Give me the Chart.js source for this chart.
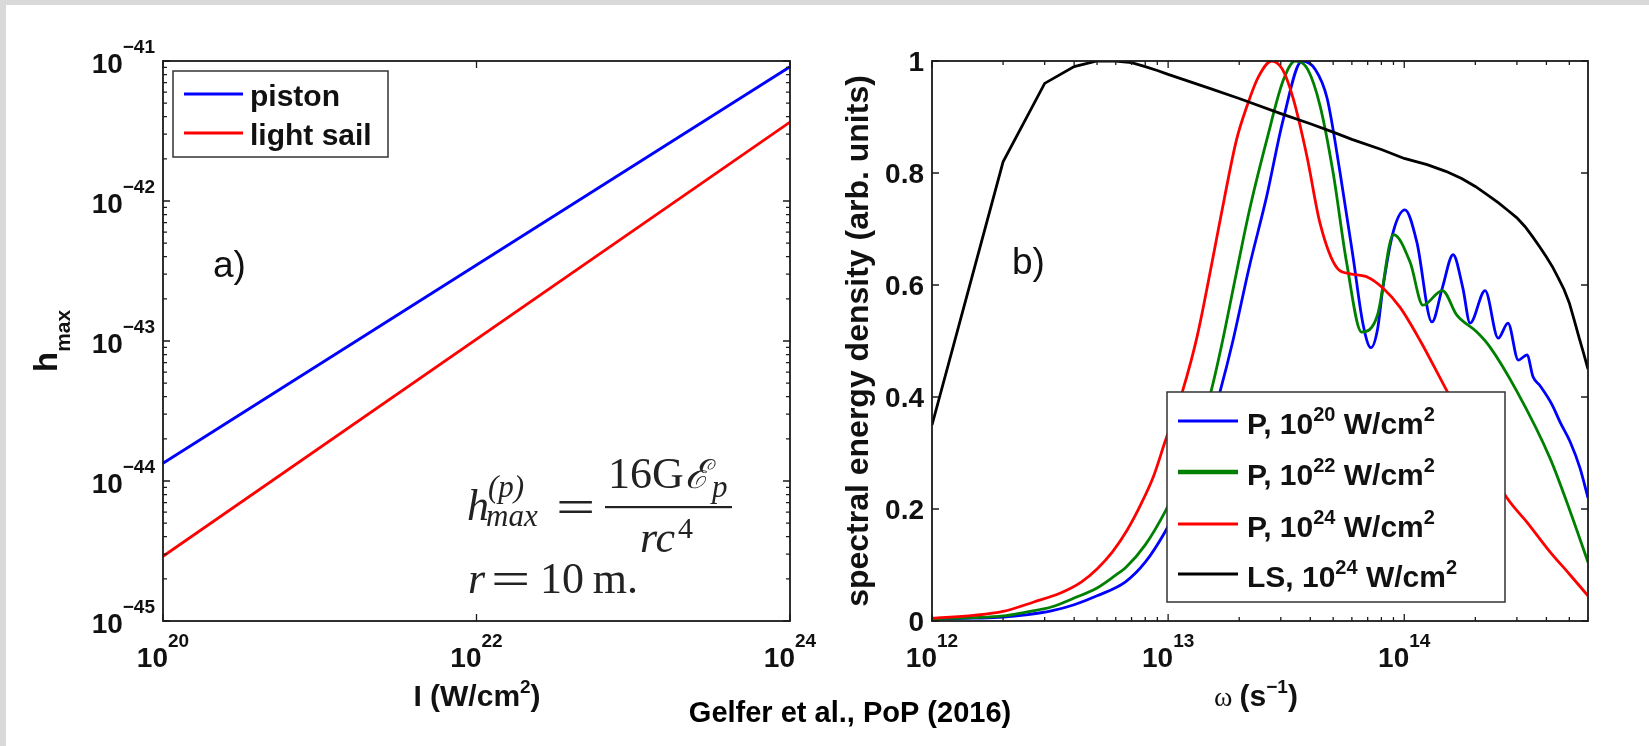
<!DOCTYPE html>
<html>
<head>
<meta charset="utf-8">
<script src="https://cdn.jsdelivr.net/npm/chart.js@4/dist/chart.umd.min.js"></script>
<style>
  html, body { margin: 0; padding: 0; background: #fff; }
  #page { position: relative; width: 1649px; height: 746px; overflow: hidden; background: #fff; }
  .band-top { position: absolute; left: 0; top: 0; width: 1649px; height: 5px; background: #d9d9d9; }
  .band-left { position: absolute; left: 0; top: 0; width: 6px; height: 746px; background: #d9d9d9; }
  canvas { position: absolute; left: 0; top: 0; }
</style>
</head>
<body>
<div id="page">
  <div class="band-top"></div>
  <div class="band-left"></div>
  <canvas id="chartA" width="1649" height="746"></canvas>
  <canvas id="chartB" width="1649" height="746"></canvas>
</div>
<script>
// panel a) : h_max versus laser intensity
var intensity = [1e20, 1e24];
var hPiston = [1.34e-44, 9.1e-42];
var hSail = [2.9e-45, 3.66e-42];
var iTicks = [1e20, 1e22, 1e24];
var hTicks = [1e-45, 1e-44, 1e-43, 1e-42, 1e-41];
var namesA = ['piston', 'light sail'];

// panel b) : spectra
var wLS = [1e12, 2e12, 3e12, 4e12, 5e12, 6e12, 7e12, 8e12, 9e12, 1e13, 1.5e13, 2e13, 3e13, 4e13, 5e13, 6e13, 8e13,
           1e14, 1.25e14, 1.5e14, 1.75e14, 2e14, 2.25e14, 2.5e14, 2.75e14, 3e14, 3.25e14, 3.5e14, 3.75e14, 4e14,
           4.25e14, 4.5e14, 4.75e14, 5e14, 5.25e14, 5.5e14, 5.75e14, 6e14];
var sLS = [0.35, 0.82, 0.96, 0.99, 1.0, 1.0, 0.997, 0.99, 0.983, 0.976, 0.951, 0.933, 0.906, 0.888, 0.873, 0.86, 0.842,
           0.826, 0.815, 0.803, 0.79, 0.776, 0.761, 0.747, 0.733, 0.72, 0.704, 0.686, 0.668, 0.65,
           0.632, 0.612, 0.592, 0.568, 0.537, 0.506, 0.478, 0.45];

var wP24 = [1e12, 1.5e12, 2e12, 2.7e12, 3.5e12, 4.3e12, 5e12, 5.8e12, 6.7e12, 7.7e12, 8.7e12, 9.7e12, 1.15e13, 1.33e13,
            1.55e13, 1.74e13, 1.95e13, 2.16e13, 2.4e13, 2.75e13, 3.05e13, 3.38e13, 3.87e13, 4.4e13, 5.2e13, 5.9e13,
            7e13, 8.1e13, 9.6e13, 1.17e14, 1.52e14, 2e14, 2.72e14, 3.3e14, 4.15e14, 5e14, 6e14];
var sP24 = [0.005, 0.01, 0.017, 0.034, 0.05, 0.07, 0.093, 0.123, 0.162, 0.21, 0.26, 0.32, 0.41, 0.51,
            0.65, 0.76, 0.86, 0.92, 0.97, 1.0, 0.985, 0.934, 0.83, 0.71, 0.63, 0.62,
            0.614, 0.595, 0.56, 0.50, 0.41, 0.32, 0.22, 0.177, 0.123, 0.084, 0.045];

var wP22 = [1e12, 1.5e12, 2e12, 2.5e12, 3.2e12, 4e12, 5e12, 6e12, 6.6e12, 8e12, 9.7e12, 1.15e13, 1.35e13, 1.53e13,
            1.7e13, 1.9e13, 2.2e13, 2.62e13, 3.07e13, 3.45e13, 3.9e13, 4.4e13, 5e13, 5.7e13, 6.6e13, 7.7e13, 9e13,
            1.06e14, 1.2e14, 1.45e14, 1.67e14, 2.03e14, 2.3e14, 3e14, 4.15e14, 5e14, 6e14];
var sP22 = [0.004, 0.006, 0.009, 0.016, 0.025, 0.041, 0.059, 0.082, 0.095, 0.136, 0.195, 0.26, 0.335, 0.415,
            0.5, 0.6, 0.73, 0.86, 0.965, 1.0, 0.985, 0.92, 0.80, 0.64, 0.516, 0.546, 0.69,
            0.64, 0.564, 0.59, 0.546, 0.516, 0.49, 0.41, 0.29, 0.2, 0.105];

var wP20 = [1e12, 1.5e12, 2e12, 2.5e12, 3.2e12, 4e12, 5e12, 6.6e12, 8e12, 9.7e12, 1.15e13, 1.35e13, 1.5e13, 1.66e13,
            1.88e13, 2.2e13, 2.62e13, 3.07e13, 3.69e13, 4.2e13, 4.71e13, 5.35e13, 6.07e13, 6.69e13, 7.23e13, 7.7e13,
            8.12e13, 8.98e13, 1.007e14, 1.13e14, 1.31e14, 1.45e14, 1.61e14, 1.77e14, 1.9e14, 2.2e14, 2.5e14, 2.75e14,
            3.04e14, 3.31e14, 3.51e14, 3.76e14, 4.23e14, 4.57e14, 5.04e14, 5.55e14, 6e14];
var sP20 = [0.003, 0.005, 0.007, 0.011, 0.018, 0.029, 0.045, 0.07, 0.105, 0.159, 0.22, 0.29, 0.345, 0.41,
            0.5, 0.63, 0.76, 0.895, 1.0, 0.985, 0.934, 0.80, 0.65, 0.53, 0.488, 0.52,
            0.595, 0.695, 0.734, 0.677, 0.534, 0.595, 0.654, 0.595, 0.532, 0.59, 0.505, 0.532,
            0.466, 0.475, 0.436, 0.42, 0.386, 0.355, 0.32, 0.273, 0.22];

var wTicks = [1e12, 1e13, 1e14];
var sTicks = [0, 0.2, 0.4, 0.6, 0.8, 1];
var sTickLabels = ['0', '0.2', '0.4', '0.6', '0.8', '1'];
var namesB = ['P', 'P', 'P', 'LS'];
var expB = ['20', '22', '24', '24'];
var colorsB = ['#0000ff', '#008000', '#ff0000', '#000000'];

var SANS = '"Liberation Sans", Arial, Helvetica, sans-serif';
var SERIF = '"Liberation Serif", "DejaVu Serif", "Times New Roman", serif';
var INK = '#111';

function pts(xs, ys) {
  return xs.map(function (x, i) { return { x: x, y: ys[i] }; });
}

// draws a run of text pieces (font, vertical shift) starting at x
function rich(ctx, parts, x, y, align) {
  var w = 0;
  parts.forEach(function (p) { ctx.font = p.f; p.w = ctx.measureText(p.t).width; w += p.w; });
  var cx = align === 'center' ? x - w / 2 : align === 'right' ? x - w : x;
  ctx.textAlign = 'left';
  ctx.textBaseline = 'alphabetic';
  parts.forEach(function (p) { ctx.font = p.f; ctx.fillText(p.t, cx, y + (p.dy || 0)); cx += p.w; });
  return w;
}

function pow10(ctx, v, x, y, align) {
  var e = Math.round(Math.log10(v));
  var es = e < 0 ? '\u2212' + (-e) : String(e);
  rich(ctx, [{ t: '10', f: 'bold 28px ' + SANS }, { t: es, f: 'bold 19px ' + SANS, dy: -20 }], x, y, align);
}

// wide equals sign, as in the typeset formula
function wideEq(ctx, x, y) {
  ctx.save();
  ctx.translate(x, y);
  ctx.scale(1.45, 1);
  ctx.font = '48px ' + SERIF;
  ctx.fillText('=', 0, 0);
  ctx.restore();
}

function logMinor(min, max) {
  var out = [];
  for (var n = Math.floor(Math.log10(min)); n <= Math.ceil(Math.log10(max)); n++) {
    for (var k = 2; k <= 9; k++) {
      var v = k * Math.pow(10, n);
      if (v > min && v < max) out.push(v);
    }
  }
  return out;
}

function frame(chart, xMajor, xMinor, yMajor, yMinor) {
  var ctx = chart.ctx, a = chart.chartArea, sx = chart.scales.x, sy = chart.scales.y;
  ctx.save();
  ctx.strokeStyle = '#1a1a1a';
  ctx.lineWidth = 1.3;
  ctx.beginPath();
  function tx(v, len) {
    var p = sx.getPixelForValue(v);
    ctx.moveTo(p, a.bottom); ctx.lineTo(p, a.bottom - len);
    ctx.moveTo(p, a.top); ctx.lineTo(p, a.top + len);
  }
  function ty(v, len) {
    var p = sy.getPixelForValue(v);
    ctx.moveTo(a.left, p); ctx.lineTo(a.left + len, p);
    ctx.moveTo(a.right, p); ctx.lineTo(a.right - len, p);
  }
  xMajor.forEach(function (v) { tx(v, 7); });
  xMinor.forEach(function (v) { tx(v, 4); });
  yMajor.forEach(function (v) { ty(v, 7); });
  yMinor.forEach(function (v) { ty(v, 4); });
  ctx.stroke();
  ctx.lineWidth = 1.8;
  ctx.strokeRect(a.left, a.top, a.right - a.left, a.bottom - a.top);
  ctx.restore();
}

function legendBox(ctx, x0, y0, x1, y1) {
  ctx.fillStyle = '#fff';
  ctx.fillRect(x0, y0, x1 - x0, y1 - y0);
  ctx.strokeStyle = '#333';
  ctx.lineWidth = 1.5;
  ctx.strokeRect(x0, y0, x1 - x0, y1 - y0);
}

var panelA = {
  id: 'panelA',
  afterDraw: function (chart) {
    var ctx = chart.ctx, a = chart.chartArea, sx = chart.scales.x, sy = chart.scales.y;
    frame(chart, iTicks, [], hTicks, logMinor(1e-45, 1e-41));
    ctx.save();
    ctx.fillStyle = INK;
    hTicks.forEach(function (v) { pow10(ctx, v, a.left - 8, sy.getPixelForValue(v) + 12, 'right'); });
    iTicks.forEach(function (v) { pow10(ctx, v, sx.getPixelForValue(v), a.bottom + 46, 'center'); });

    // x title
    rich(ctx, [{ t: 'I (W/cm', f: 'bold 30px ' + SANS }, { t: '2', f: 'bold 19px ' + SANS, dy: -13 },
               { t: ')', f: 'bold 30px ' + SANS }], 477, 706, 'center');
    // y title h_max, rotated
    ctx.save();
    ctx.translate(57, 372);
    ctx.rotate(-Math.PI / 2);
    rich(ctx, [{ t: 'h', f: 'bold 33px ' + SANS }, { t: 'max', f: 'bold 21px ' + SANS, dy: 13 }], 0, 0, 'left');
    ctx.restore();

    // panel tag
    ctx.font = '37px ' + SANS;
    ctx.fillText('a)', 213, 277);

    // formula
    ctx.fillStyle = '#222';
    ctx.font = 'italic 44px ' + SERIF; ctx.fillText('h', 467, 520);
    ctx.font = 'italic 31px ' + SERIF; ctx.fillText('(p)', 488, 497);
    ctx.font = 'italic 31px ' + SERIF; ctx.fillText('max', 486, 526);
    wideEq(ctx, 556, 523);
    ctx.fillRect(605, 506, 127, 2.2);
    ctx.font = '44px ' + SERIF; ctx.fillText('16G', 608, 488);
    var w16 = ctx.measureText('16G').width;
    ctx.font = 'italic 40px ' + SERIF; ctx.fillText('\u2130', 608 + w16 + 1, 488);
    ctx.font = 'italic 31px ' + SERIF; ctx.fillText('p', 712, 497);
    ctx.font = 'italic 44px ' + SERIF; ctx.fillText('rc', 640, 552);
    ctx.font = '30px ' + SERIF; ctx.fillText('4', 678, 538);
    ctx.font = 'italic 44px ' + SERIF; ctx.fillText('r', 468, 593);
    wideEq(ctx, 491, 595);
    ctx.font = '44px ' + SERIF; ctx.fillText('10\u2009m.', 540, 593);

    // legend
    legendBox(ctx, 173, 71, 388, 157);
    [['#0000ff', 94], ['#ff0000', 133]].forEach(function (r, i) {
      ctx.strokeStyle = r[0];
      ctx.lineWidth = 2.8;
      ctx.beginPath(); ctx.moveTo(184, r[1]); ctx.lineTo(243, r[1]); ctx.stroke();
      ctx.fillStyle = INK;
      ctx.font = 'bold 30px ' + SANS;
      ctx.textAlign = 'left';
      ctx.fillText(namesA[i], 250, r[1] + 12);
    });
    ctx.restore();
  }
};

var panelB = {
  id: 'panelB',
  afterDraw: function (chart) {
    var ctx = chart.ctx, a = chart.chartArea, sx = chart.scales.x, sy = chart.scales.y;
    frame(chart, wTicks, logMinor(1e12, 6e14), sTicks, []);
    ctx.save();
    ctx.fillStyle = INK;
    ctx.font = 'bold 28px ' + SANS;
    ctx.textAlign = 'right';
    ctx.textBaseline = 'middle';
    sTicks.forEach(function (v, i) { ctx.fillText(sTickLabels[i], a.left - 8, sy.getPixelForValue(v) + 2); });
    wTicks.forEach(function (v) { pow10(ctx, v, sx.getPixelForValue(v), a.bottom + 46, 'center'); });

    // x title
    rich(ctx, [{ t: '\u03c9 ', f: '28px ' + SERIF }, { t: '(s', f: 'bold 30px ' + SANS },
               { t: '\u22121', f: 'bold 19px ' + SANS, dy: -13 }, { t: ')', f: 'bold 30px ' + SANS }], 1256, 706, 'center');
    // y title
    ctx.save();
    ctx.translate(868, 341);
    ctx.rotate(-Math.PI / 2);
    rich(ctx, [{ t: 'spectral energy density (arb. units)', f: 'bold 32px ' + SANS }], 0, 0, 'center');
    ctx.restore();

    ctx.font = '37px ' + SANS;
    ctx.textAlign = 'left';
    ctx.textBaseline = 'alphabetic';
    ctx.fillText('b)', 1012, 274);

    // legend
    legendBox(ctx, 1167, 392, 1505, 602);
    var rows = [421, 472, 524, 574];
    rows.forEach(function (y, i) {
      ctx.strokeStyle = colorsB[i];
      ctx.lineWidth = i === 1 ? 4.5 : 2.8;
      ctx.beginPath(); ctx.moveTo(1178, y); ctx.lineTo(1238, y); ctx.stroke();
      ctx.fillStyle = INK;
      rich(ctx, [{ t: namesB[i] + ', 10', f: 'bold 30px ' + SANS }, { t: expB[i], f: 'bold 20px ' + SANS, dy: -13 },
                 { t: ' W/cm', f: 'bold 30px ' + SANS }, { t: '2', f: 'bold 20px ' + SANS, dy: -13 }], 1247, y + 13, 'left');
    });

    // source caption
    ctx.fillStyle = '#000';
    rich(ctx, [{ t: 'Gelfer et al., PoP (2016)', f: 'bold 29px ' + SANS }], 850, 722, 'center');
    ctx.restore();
  }
};

var common = {
  responsive: false,
  animation: false,
  devicePixelRatio: 1,
  plugins: { legend: { display: false }, tooltip: { enabled: false } }
};

new Chart(document.getElementById('chartA'), {
  type: 'line',
  data: {
    datasets: [
      { label: namesA[1], data: pts(intensity, hSail), borderColor: '#ff0000', borderWidth: 2.8, pointRadius: 0, tension: 0 },
      { label: namesA[0], data: pts(intensity, hPiston), borderColor: '#0000ff', borderWidth: 2.8, pointRadius: 0, tension: 0 }
    ]
  },
  options: Object.assign({}, common, {
    layout: { padding: { left: 163, top: 61, right: 1649 - 790, bottom: 746 - 621 } },
    scales: {
      x: { type: 'logarithmic', min: 1e20, max: 1e24, display: false },
      y: { type: 'logarithmic', min: 1e-45, max: 1e-41, display: false }
    }
  }),
  plugins: [panelA]
});

function curve(label, xs, ys, color, smooth) {
  return {
    label: label, data: pts(xs, ys), borderColor: color, borderWidth: 2.8, pointRadius: 0,
    tension: 0, cubicInterpolationMode: smooth ? 'monotone' : 'default'
  };
}

new Chart(document.getElementById('chartB'), {
  type: 'line',
  data: {
    datasets: [
      curve('LS, 10^24 W/cm^2', wLS, sLS, colorsB[3], false),
      curve('P, 10^24 W/cm^2', wP24, sP24, colorsB[2], true),
      curve('P, 10^22 W/cm^2', wP22, sP22, colorsB[1], true),
      curve('P, 10^20 W/cm^2', wP20, sP20, colorsB[0], true)
    ]
  },
  options: Object.assign({}, common, {
    layout: { padding: { left: 932, top: 61, right: 1649 - 1588, bottom: 746 - 621 } },
    scales: {
      x: { type: 'logarithmic', min: 1e12, max: 6e14, display: false },
      y: { type: 'linear', min: 0, max: 1, display: false }
    }
  }),
  plugins: [panelB]
});
</script>
</body>
</html>
